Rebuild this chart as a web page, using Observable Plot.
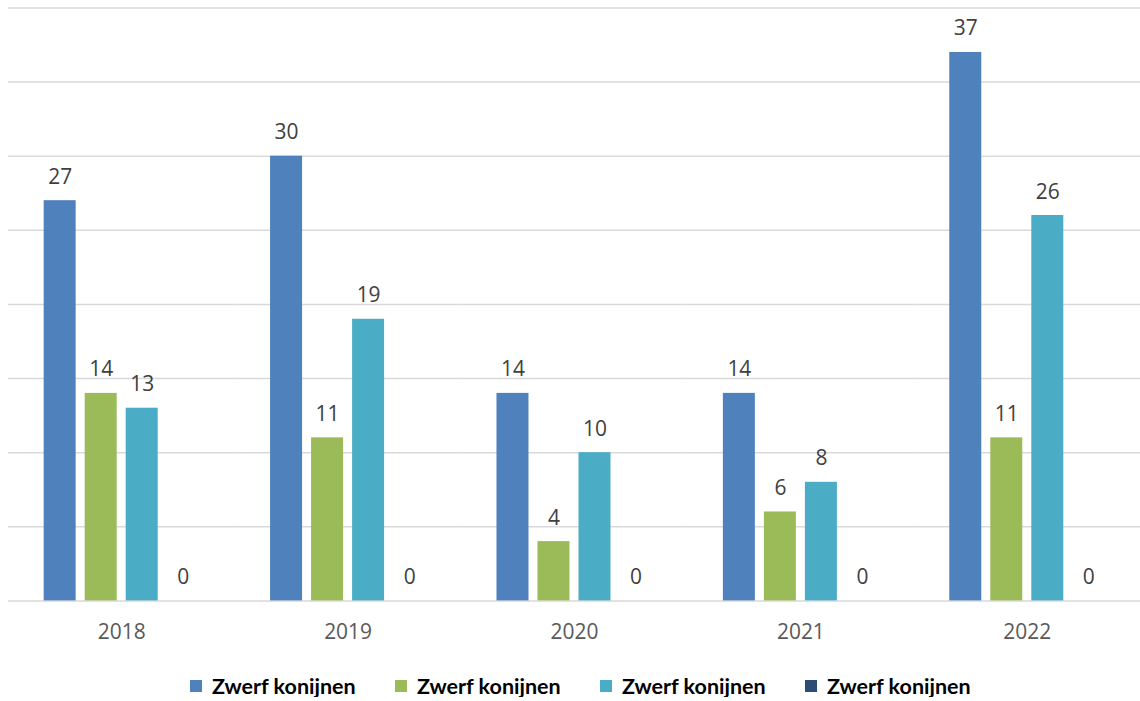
<!DOCTYPE html>
<html>
<head>
<meta charset="utf-8">
<script src="https://cdn.jsdelivr.net/npm/d3@7"></script>
<script src="https://cdn.jsdelivr.net/npm/@observablehq/plot@0.6"></script>
<style>
  html, body { margin: 0; background: #fff; overflow: hidden; width: 1140px; }
  #chart { width: 1140px; height: 655px; overflow: hidden; }
  #legend { display: flex; padding-left: 190px; margin-top: 20px; height: 22px; align-items: center;
    font-family: Lato, "Open Sans", sans-serif; font-weight: bold; font-size: 21.5px; color: #000; }
  .item { width: 205px; display: flex; align-items: center; }
  .sw { width: 12px; height: 12px; margin-right: 10px; flex: none; }
</style>
</head>
<body>
<div id="chart"></div>
<div id="legend"></div>
<script>
const years = ["2018", "2019", "2020", "2021", "2022"];
const seriesNames = ["Zwerf konijnen", "Zwerf konijnen", "Zwerf konijnen", "Zwerf konijnen"];
const seriesColors = ["#4F81BD", "#9BBB59", "#4BACC6", "#2C4D75"];
const series1 = [27, 30, 14, 14, 37];
const series2 = [14, 11, 4, 6, 11];
const series3 = [13, 19, 10, 8, 26];
const series4 = [0, 0, 0, 0, 0];
const gridValues = [0, 5, 10, 15, 20, 25, 30, 35, 40];

const allSeries = [series1, series2, series3, series4];
const data = [];
years.forEach((yr, i) => allSeries.forEach((s, j) => data.push({year: yr, series: j, value: s[i]})));

const chart = Plot.plot({
  width: 1143,
  height: 655,
  marginLeft: 8,
  marginRight: 0,
  marginTop: 7.5,
  marginBottom: 53,
  style: {fontFamily: "'Open Sans', sans-serif", fontSize: "21px", color: "#595959", background: "#fff", overflow: "visible"},
  fx: {domain: years, padding: 0, axis: null, round: false},
  x: {domain: [0, 1, 2, 3], axis: null, paddingInner: 0.22, paddingOuter: 0.87, round: false},
  y: {domain: [0, 40], axis: null},
  marks: [
    Plot.ruleY(gridValues, {stroke: "#d9d9d9", strokeWidth: 1.5}),
    Plot.barY(data, {fx: "year", x: "series", y: "value", fill: d => seriesColors[d.series]}),
    Plot.text(data, {fx: "year", x: "series", y: "value", text: d => String(d.value),
      lineAnchor: "bottom", dy: -17, fontSize: 21, fill: "#404040"}),
    Plot.text(years, {fx: d => d, text: d => d, frameAnchor: "bottom", dy: 38,
      fontSize: 21, fill: "#595959"})
  ]
});
document.getElementById("chart").appendChild(chart);

const legend = document.getElementById("legend");
seriesNames.forEach((name, i) => {
  const it = document.createElement("div");
  it.className = "item";
  it.innerHTML = `<span class="sw" style="background:${seriesColors[i]}"></span><span>${name}</span>`;
  legend.appendChild(it);
});
</script>
</body>
</html>
